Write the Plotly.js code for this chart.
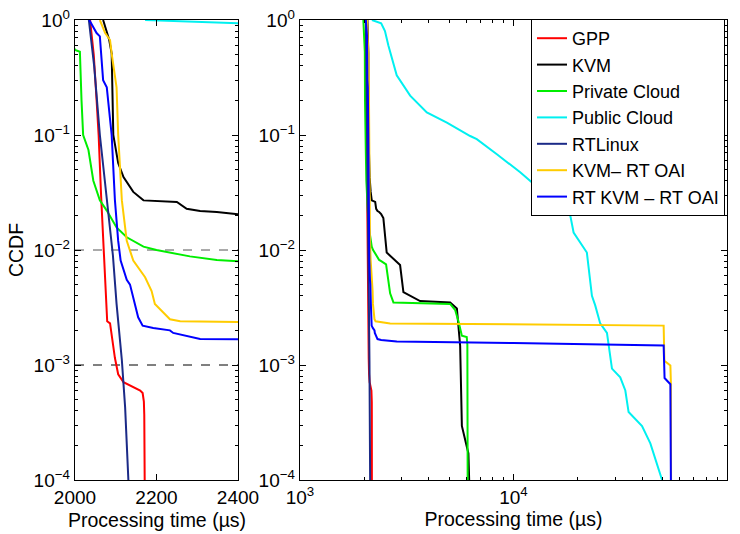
<!DOCTYPE html>
<html>
<head>
<meta charset="utf-8">
<script src="https://cdn.plot.ly/plotly-3.0.1.min.js"></script>
<style>html,body{margin:0;padding:0;background:#fff}#chart{width:740px;height:534px}</style>
</head>
<body>
<div id="chart"></div>
<script>
// ---- data (processing time in microseconds, CCDF) ----
const seriesNames = ["GPP", "KVM", "Private Cloud", "Public Cloud", "RTLinux", "KVM\u2013 RT OAI", "RT KVM \u2013 RT OAI"];
const seriesColors = ["#ff0000", "#000000", "#00ee00", "#00f0f0", "#1b2a87", "#ffcc00", "#0000ff"];

const gppX = [2037, 2046, 2053, 2058, 2064, 2070, 2073, 2079, 2086, 2094, 2098, 2106, 2119, 2160, 2166, 2169, 2170, 2171];
const gppY = [1, 0.5, 0.2, 0.1, 0.03, 0.01, 0.0065, 0.0024, 0.0023, 0.0014, 0.00115, 0.00083, 0.00071, 0.0006, 0.00057, 0.00048, 0.00037, 0.0001];

const kvmX = [2069, 2078, 2084, 2090, 2094, 2106, 2119, 2143, 2168, 2250, 2274, 2307, 2348, 2400, 2457, 2547, 2692, 2943, 3050, 3280, 3652, 5050, 5430, 5625, 5730, 6150, 6200];
const kvmY = [1, 0.77, 0.67, 0.51, 0.1, 0.057, 0.043, 0.032, 0.027, 0.0262, 0.0228, 0.0218, 0.0214, 0.0205, 0.019, 0.0095, 0.0086, 0.0074, 0.0043, 0.004, 0.0036, 0.0035, 0.0031, 0.00147, 0.000295, 0.00017, 0.0001];

const privX = [1980, 1995, 2000, 2012, 2016, 2020, 2033, 2045, 2061, 2078, 2102, 2127, 2168, 2200, 2282, 2348, 2400, 2530, 2643, 2739, 5050, 5335, 5522, 5730, 6040, 6080, 6100];
const privY = [1, 0.6, 0.55, 0.53, 0.2, 0.1, 0.074, 0.04, 0.027, 0.022, 0.0157, 0.0129, 0.0107, 0.01, 0.0088, 0.0082, 0.008, 0.0075, 0.0042, 0.0035, 0.0034, 0.003, 0.0024, 0.0018, 0.00175, 0.0015, 0.0001];

const pubX = [2172, 2300, 2400, 2500, 2594, 2838, 3280, 3926, 4875, 6268, 6730, 8358, 10750, 13830, 14860, 18450, 19120, 22060, 22480, 23300, 24140, 25470, 27400, 28920, 31620, 33400, 34600, 40000, 43750, 49650];
const pubY = [1, 0.97, 0.935, 0.8, 0.6, 0.33, 0.22, 0.157, 0.128, 0.098, 0.092, 0.068, 0.0474, 0.0316, 0.0277, 0.0199, 0.0142, 0.0095, 0.0073, 0.004, 0.0033, 0.0023, 0.0019, 0.00093, 0.00078, 0.0006, 0.00039, 0.000295, 0.000208, 0.0001];

const rtlX = [2034, 2047, 2061, 2078, 2093, 2102, 2115, 2123, 2131];
const rtlY = [1, 0.4, 0.1, 0.027, 0.009, 0.0034, 0.0011, 0.00043, 0.0001];

const kvmRtX = [2061, 2074, 2086, 2090, 2102, 2106, 2115, 2127, 2143, 2172, 2188, 2196, 2233, 2258, 2400, 2643, 50500, 50900, 54300, 54600, 54700];
const kvmRtY = [1, 0.77, 0.67, 0.51, 0.26, 0.1, 0.027, 0.012, 0.0081, 0.0058, 0.0044, 0.0034, 0.0025, 0.0024, 0.00236, 0.0023, 0.0022, 0.00109, 0.00099, 0.0007, 0.0001];

const rtKvmX = [2035, 2053, 2061, 2069, 2078, 2090, 2098, 2106, 2112, 2127, 2135, 2147, 2155, 2166, 2192, 2233, 2241, 2307, 2400, 2840, 10000, 50500, 51000, 54300, 54600];
const rtKvmY = [1, 0.77, 0.72, 0.3, 0.26, 0.1, 0.027, 0.012, 0.0081, 0.0055, 0.005, 0.0034, 0.0026, 0.0022, 0.0021, 0.002, 0.0019, 0.00168, 0.00165, 0.0016, 0.00155, 0.00148, 0.00077, 0.00068, 0.0001];

const seriesX = [gppX, kvmX, privX, pubX, rtlX, kvmRtX, rtKvmX];
const seriesY = [gppY, kvmY, privY, pubY, rtlY, kvmRtY, rtKvmY];

// reference levels drawn in the zoomed panel
const refLevels = [0.01, 0.001];
const refColors = ["#555555", "#000000"];
const refSpanX = [2000, 2400];

// tick labels and titles
const yTickVals = [1e-4, 1e-3, 1e-2, 1e-1, 1];
const yTickText = ["10<sup>\u22124</sup>", "10<sup>\u22123</sup>", "10<sup>\u22122</sup>", "10<sup>\u22121</sup>", "10<sup>0</sup>"];
const xLinTickVals = [2000, 2200, 2400];
const xLinTickText = ["2000", "2200", "2400"];
const xLogTickVals = [1e3, 1e4, 1e5];
const xLogTickText = ["10<sup>3</sup>", "10<sup>4</sup>", "10<sup>5</sup>"];
const xTitle = "Processing time (\u00b5s)";
const yTitle = "CCDF";

function minorLog(fromExp, toExp) {
  const v = [];
  for (let e = fromExp; e < toExp; e++) for (let m = 2; m <= 9; m++) v.push(m * Math.pow(10, e));
  return v;
}

const traces = [];
for (let k = 0; k < refLevels.length; k++) {
  traces.push({x: refSpanX, y: [refLevels[k], refLevels[k]], xaxis: 'x', yaxis: 'y', mode: 'lines',
    line: {color: refColors[k], width: 1, dash: 'dash'}, showlegend: false, hoverinfo: 'skip'});
}
for (let i = 0; i < seriesNames.length; i++) {
  traces.push({x: seriesX[i], y: seriesY[i], xaxis: 'x', yaxis: 'y', mode: 'lines', name: seriesNames[i],
    line: {color: seriesColors[i], width: 2}, showlegend: false});
}
for (let i = 0; i < seriesNames.length; i++) {
  traces.push({x: seriesX[i], y: seriesY[i], xaxis: 'x2', yaxis: 'y2', mode: 'lines', name: seriesNames[i],
    line: {color: seriesColors[i], width: 2}, showlegend: true});
}

const FONT = 'Liberation Sans, Arial, Helvetica, sans-serif';
const TICK = 19, TITLE = 19.5;
const yDom = [1 - 480 / 534, 1 - 20 / 534];
const axBase = {showline: true, linecolor: '#000', linewidth: 1.3, mirror: 'ticks', ticks: 'inside',
  ticklen: 6, tickcolor: '#000', tickwidth: 1, showgrid: false, zeroline: false,
  tickfont: {family: FONT, size: TICK, color: '#000'}};

const layout = {
  width: 740, height: 534,
  margin: {l: 0, r: 0, t: 0, b: 0},
  paper_bgcolor: '#fff', plot_bgcolor: '#fff',
  font: {family: FONT, size: 18, color: '#000'},
  showlegend: true,
  legend: {x: 531 / 740, y: 1 - 19 / 534, xanchor: 'left', yanchor: 'top', bgcolor: '#fff',
    bordercolor: '#000', borderwidth: 1, font: {family: FONT, size: 18, color: '#000'},
    itemwidth: 30, tracegroupgap: 0},
  annotations: [{text: xTitle, xref: 'paper', yref: 'paper', x: 156.5 / 740, y: 1 - 520 / 534,
    xanchor: 'center', yanchor: 'middle', showarrow: false, font: {family: FONT, size: TITLE, color: '#000'}}],
  xaxis: Object.assign({}, axBase, {domain: [75 / 740, 238 / 740], range: [2000, 2400], anchor: 'y',
    tickmode: 'array', tickvals: xLinTickVals, ticktext: xLinTickText}),
  yaxis: Object.assign({}, axBase, {domain: yDom, type: 'log', range: [-4, 0], anchor: 'x',
    tickmode: 'array', tickvals: yTickVals, ticktext: yTickText,
    minor: {tickmode: 'array', tickvals: minorLog(-4, 0), ticks: 'inside', ticklen: 3, tickcolor: '#000'},
    title: {text: yTitle, font: {family: FONT, size: TITLE}, standoff: 4}}),
  xaxis2: Object.assign({}, axBase, {domain: [300 / 740, 727 / 740], type: 'log', range: [3, 5], anchor: 'y2',
    tickmode: 'array', tickvals: xLogTickVals, ticktext: xLogTickText,
    minor: {tickmode: 'array', tickvals: minorLog(3, 5), ticks: 'inside', ticklen: 3, tickcolor: '#000'},
    title: {text: xTitle, font: {family: FONT, size: TITLE}, standoff: 3}}),
  yaxis2: Object.assign({}, axBase, {domain: yDom, type: 'log', range: [-4, 0], anchor: 'x2',
    tickmode: 'array', tickvals: yTickVals, ticktext: yTickText,
    minor: {tickmode: 'array', tickvals: minorLog(-4, 0), ticks: 'inside', ticklen: 3, tickcolor: '#000'}})
};

Plotly.newPlot('chart', traces, layout, {staticPlot: true, displayModeBar: false});
</script>
</body>
</html>
